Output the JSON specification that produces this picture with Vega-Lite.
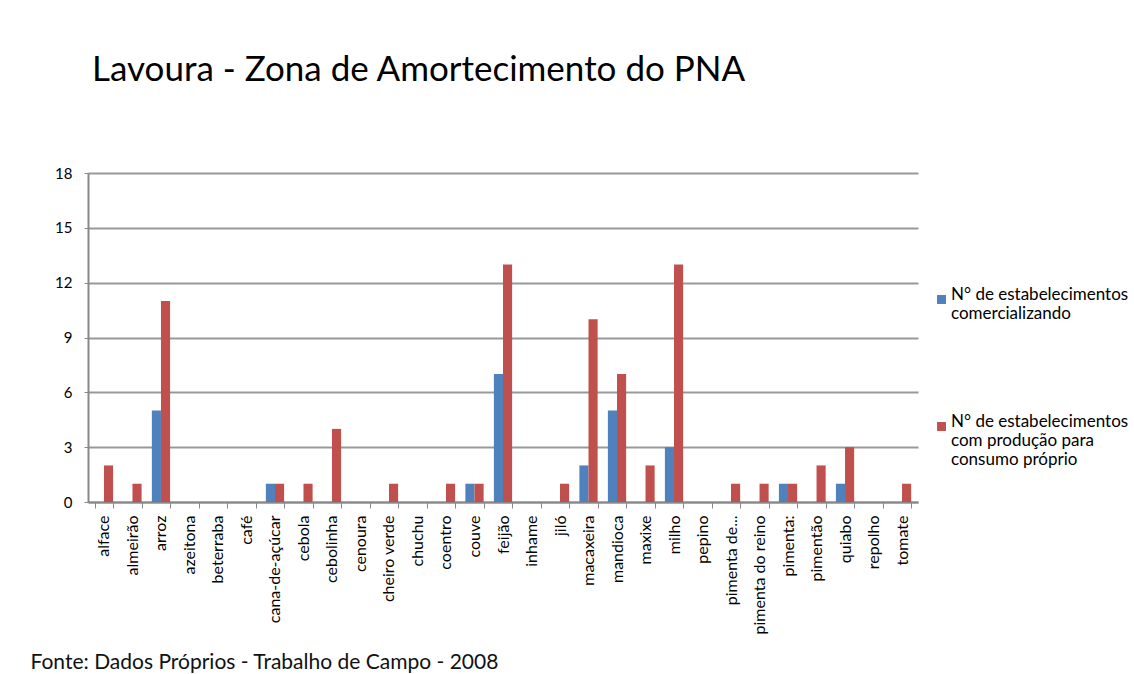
{
  "$schema": "https://vega.github.io/schema/vega-lite/v6.json",
  "autosize": {"type": "none"},
  "width": 830,
  "height": 329,
  "padding": {"left": 88, "top": 173, "right": 216, "bottom": 172},
  "background": "white",
  "config": {"font": "Lato", "view": {"stroke": null}},
  "title": {
    "text": "Lavoura - Zona de Amortecimento do PNA",
    "anchor": "start",
    "frame": "group",
    "fontSize": 35,
    "fontWeight": "normal",
    "font": "Lato",
    "color": "#000000",
    "offset": 90,
    "dy": 12,
    "dx": 4
  },
  "data": {
    "values": [
      {"cultura": "alface", "serie": "com", "valor": 0}, {"cultura": "alface", "serie": "cons", "valor": 2},
      {"cultura": "almeirão", "serie": "com", "valor": 0}, {"cultura": "almeirão", "serie": "cons", "valor": 1},
      {"cultura": "arroz", "serie": "com", "valor": 5}, {"cultura": "arroz", "serie": "cons", "valor": 11},
      {"cultura": "azeitona", "serie": "com", "valor": 0}, {"cultura": "azeitona", "serie": "cons", "valor": 0},
      {"cultura": "beterraba", "serie": "com", "valor": 0}, {"cultura": "beterraba", "serie": "cons", "valor": 0},
      {"cultura": "café", "serie": "com", "valor": 0}, {"cultura": "café", "serie": "cons", "valor": 0},
      {"cultura": "cana-de-açúcar", "serie": "com", "valor": 1}, {"cultura": "cana-de-açúcar", "serie": "cons", "valor": 1},
      {"cultura": "cebola", "serie": "com", "valor": 0}, {"cultura": "cebola", "serie": "cons", "valor": 1},
      {"cultura": "cebolinha", "serie": "com", "valor": 0}, {"cultura": "cebolinha", "serie": "cons", "valor": 4},
      {"cultura": "cenoura", "serie": "com", "valor": 0}, {"cultura": "cenoura", "serie": "cons", "valor": 0},
      {"cultura": "cheiro verde", "serie": "com", "valor": 0}, {"cultura": "cheiro verde", "serie": "cons", "valor": 1},
      {"cultura": "chuchu", "serie": "com", "valor": 0}, {"cultura": "chuchu", "serie": "cons", "valor": 0},
      {"cultura": "coentro", "serie": "com", "valor": 0}, {"cultura": "coentro", "serie": "cons", "valor": 1},
      {"cultura": "couve", "serie": "com", "valor": 1}, {"cultura": "couve", "serie": "cons", "valor": 1},
      {"cultura": "feijão", "serie": "com", "valor": 7}, {"cultura": "feijão", "serie": "cons", "valor": 13},
      {"cultura": "inhame", "serie": "com", "valor": 0}, {"cultura": "inhame", "serie": "cons", "valor": 0},
      {"cultura": "jiló", "serie": "com", "valor": 0}, {"cultura": "jiló", "serie": "cons", "valor": 1},
      {"cultura": "macaxeira", "serie": "com", "valor": 2}, {"cultura": "macaxeira", "serie": "cons", "valor": 10},
      {"cultura": "mandioca", "serie": "com", "valor": 5}, {"cultura": "mandioca", "serie": "cons", "valor": 7},
      {"cultura": "maxixe", "serie": "com", "valor": 0}, {"cultura": "maxixe", "serie": "cons", "valor": 2},
      {"cultura": "milho", "serie": "com", "valor": 3}, {"cultura": "milho", "serie": "cons", "valor": 13},
      {"cultura": "pepino", "serie": "com", "valor": 0}, {"cultura": "pepino", "serie": "cons", "valor": 0},
      {"cultura": "pimenta de...", "serie": "com", "valor": 0}, {"cultura": "pimenta de...", "serie": "cons", "valor": 1},
      {"cultura": "pimenta do reino", "serie": "com", "valor": 0}, {"cultura": "pimenta do reino", "serie": "cons", "valor": 1},
      {"cultura": "pimenta:", "serie": "com", "valor": 1}, {"cultura": "pimenta:", "serie": "cons", "valor": 1},
      {"cultura": "pimentão", "serie": "com", "valor": 0}, {"cultura": "pimentão", "serie": "cons", "valor": 2},
      {"cultura": "quiabo", "serie": "com", "valor": 1}, {"cultura": "quiabo", "serie": "cons", "valor": 3},
      {"cultura": "repolho", "serie": "com", "valor": 0}, {"cultura": "repolho", "serie": "cons", "valor": 0},
      {"cultura": "tomate", "serie": "com", "valor": 0}, {"cultura": "tomate", "serie": "cons", "valor": 1}
    ]
  },
  "mark": {"type": "bar", "stroke": null},
  "encoding": {
    "x": {
      "field": "cultura",
      "type": "nominal",
      "sort": null,
      "scale": {"paddingInner": 0.36, "paddingOuter": 0.24},
      "axis": {
        "title": "Fonte: Dados Próprios - Trabalho de Campo - 2008",
        "titleAnchor": "start",
        "titleX": -58,
        "titleY": 166,
        "titleFont": "Lato",
        "titleFontSize": 21,
        "titleFontWeight": "normal",
        "titleColor": "#111111",
        "titleBaseline": "alphabetic",
        "labelAngle": -90,
        "labelFontSize": 16,
        "labelColor": "#000000",
        "labelPadding": 7,
        "domainColor": "#888888",
        "domainWidth": 2,
        "tickColor": "#888888",
        "tickBand": "extent",
        "tickSize": 6
      }
    },
    "xOffset": {"field": "serie", "type": "nominal", "scale": {"paddingInner": 0}},
    "y": {
      "field": "valor",
      "type": "quantitative",
      "scale": {"domain": [0, 18]},
      "axis": {
        "title": null,
        "values": [0, 3, 6, 9, 12, 15, 18],
        "labelFontSize": 15,
        "labelColor": "#000000",
        "labelPadding": 12,
        "domainColor": "#888888",
        "domainWidth": 2,
        "tickColor": "#888888",
        "tickSize": 4,
        "gridColor": "#999999",
        "gridWidth": 2
      }
    },
    "color": {
      "field": "serie",
      "type": "nominal",
      "scale": {"domain": ["com", "cons"], "range": ["#4F81BD", "#C0504D"]},
      "legend": {
        "title": null,
        "orient": "none",
        "legendX": 845,
        "legendY": 118,
        "symbolType": "square",
        "symbolSize": 80,
        "symbolStrokeWidth": 0,
        "labelFontSize": 17,
        "labelColor": "#000000",
        "labelBaseline": "alphabetic",
        "labelOffset": 1,
        "labelLimit": 300,
        "rowPadding": 90,
        "labelExpr": "datum.value == 'com' ? ['N° de estabelecimentos', 'comercializando'] : ['N° de estabelecimentos', 'com produção para', 'consumo próprio']",
        "encode": {"labels": {"update": {"dy": {"value": 5}, "lineHeight": {"value": 24}}}}
      }
    }
  }
}
